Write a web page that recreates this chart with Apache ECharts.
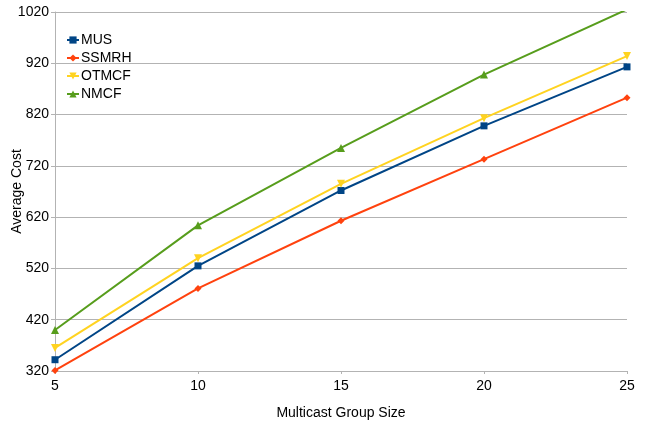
<!DOCTYPE html>
<html><head><meta charset="utf-8">
<script src="https://cdn.jsdelivr.net/npm/echarts@6/dist/echarts.min.js"></script>
<style>html,body{margin:0;padding:0;background:#fff}#c{width:652px;height:424px}</style>
</head><body><div id="c"></div>
<script>
const groupSizes = [5, 10, 15, 20, 25];
const mus = [342, 525, 672, 798, 913];
const ssmrh = [321, 481, 613, 733, 853];
const otmcf = [365, 540, 685, 813, 934];
const nmcf = [400, 604, 755, 898, 1025];
const yTicks = [320, 420, 520, 620, 720, 820, 920, 1020];

const font = 'Liberation Sans, Arial, sans-serif';
function mk(name, vals, color, symbol, size, rot) {
  return {
    name, type: 'line', data: groupSizes.map((x, i) => [x, vals[i]]),
    symbol, symbolSize: size, symbolRotate: rot || 0,
    lineStyle: { color, width: 2 }, itemStyle: { color },
    showAllSymbol: true
  };
}
const chart = echarts.init(document.getElementById('c'), null, { renderer: 'canvas' });
chart.setOption({
  animation: false,
  backgroundColor: '#fff',
  textStyle: { fontFamily: font },
  grid: { left: 55, right: 25, top: 12, bottom: 53, containLabel: false, outerBoundsMode: 'none' },
  legend: {
    orient: 'vertical', left: 61, top: 26, itemGap: 0, itemWidth: 12, itemHeight: 9,
    textStyle: { fontFamily: font, fontSize: 14, color: '#000', lineHeight: 18, padding: [0, 0, 0, -3] },
    data: ['MUS', 'SSMRH', 'OTMCF', 'NMCF']
  },
  xAxis: {
    type: 'value', min: 5, max: 25, interval: 5,
    name: 'Multicast Group Size', nameLocation: 'middle', nameGap: 35, nameMoveOverlap: false,
    nameTextStyle: { fontFamily: font, fontSize: 14, color: '#000' },
    axisLine: { lineStyle: { color: '#b3b3b3' } },
    axisTick: { show: true, length: 3, lineStyle: { color: '#b3b3b3' } },
    axisLabel: { fontFamily: font, fontSize: 14, color: '#000', margin: 8 },
    splitLine: { show: false }
  },
  yAxis: {
    type: 'value', min: yTicks[0], max: yTicks[yTicks.length - 1], interval: 100,
    name: 'Average Cost', nameLocation: 'middle', nameGap: 31, nameMoveOverlap: false,
    nameTextStyle: { fontFamily: font, fontSize: 14, color: '#000' },
    axisLine: { show: true, lineStyle: { color: '#b3b3b3' } },
    axisTick: { show: true, length: 4, lineStyle: { color: '#b3b3b3' } },
    axisLabel: { fontFamily: font, fontSize: 14, color: '#000', margin: 6, formatter: v => String(v) },
    splitLine: { show: true, lineStyle: { color: '#b3b3b3', width: 1 } }
  },
  series: [
    mk('MUS', mus, '#004586', 'rect', 7),
    mk('SSMRH', ssmrh, '#ff420e', 'diamond', 7),
    mk('OTMCF', otmcf, '#ffd320', 'triangle', 8, 180),
    mk('NMCF', nmcf, '#579d1c', 'triangle', 8)
  ]
});
</script></body></html>
